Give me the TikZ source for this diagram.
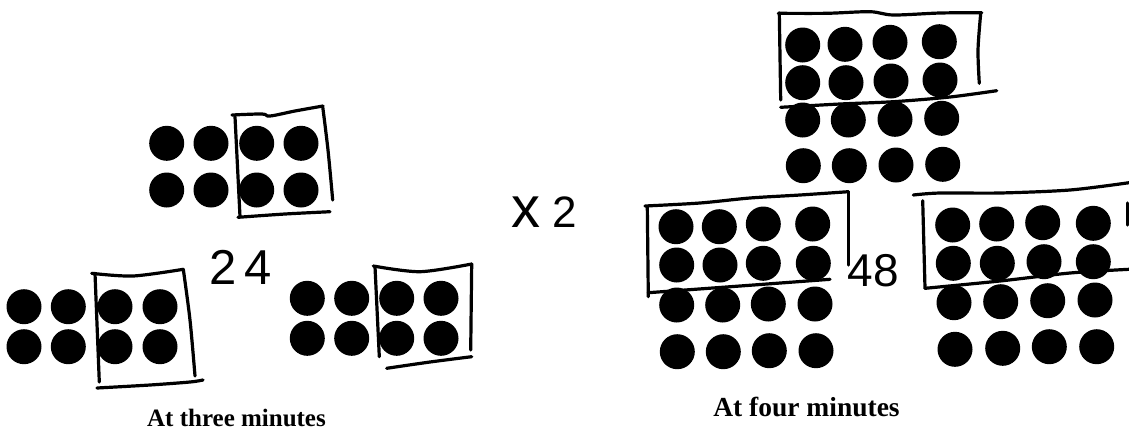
\documentclass[tikz,border=0pt]{standalone}
\usepackage{fontspec}
\setmainfont{Liberation Serif}
\newfontfamily\handfont{Liberation Sans}
\begin{document}
\begin{tikzpicture}[x=1pt,y=-1pt,
  hand/.style={line width=3.2pt,line cap=round,line join=round},
  dot/.style={fill=black},
  lbl/.style={anchor=base,font=\bfseries},
  num/.style={font=\handfont}]
\useasboundingbox (0,0) rectangle (1129,432);
\newcommand\dt[2]{\fill[dot] (#1,#2) circle (17.5pt);}
% ---------- group 1 (top left)
\foreach \x in {166.7,211,256.7,301} {\dt{\x}{143.3}\dt{\x}{190}}
\draw[hand] plot[smooth,tension=0.6] coordinates {(232,115) (262,114) (270,116) (295,111) (323,106)};
\draw[hand] plot[smooth] coordinates {(322.7,106.7) (328,150) (332.7,200)};
\draw[hand] (235,116.7) -- (240,216.7);
\draw[hand] plot[smooth] coordinates {(238,217.3) (285,214) (330,211.7)};
% ---------- group 2 (bottom left)
\foreach \x in {24,68.3,115,160} {\dt{\x}{306.7}\dt{\x}{346.7}}
\draw[hand] plot[smooth] coordinates {(91.7,273.3) (133,276) (183.3,269.3)};
\draw[hand] plot[smooth] coordinates {(183.3,269.3) (190,320) (195,376)};
\draw[hand] (95,273.3) -- (99.3,382);
\draw[hand] plot[smooth] coordinates {(97,388) (150,385) (190,382) (203,380)};
% ---------- group 3 (bottom middle)
\foreach \x in {307.3,351.7,396.7,441} {\dt{\x}{298.3}\dt{\x}{338.3}}
\draw[hand] plot[smooth] coordinates {(373.3,266) (420,271.7) (471.7,264)};
\draw[hand] (375,266.7) -- (379.3,356.7);
\draw[hand] (471.7,264) -- (470.7,350);
\draw[hand] plot[smooth] coordinates {(386.7,368.3) (430,362) (471.7,356.7)};
% ---------- labels left
\node[num,font=\handfont\fontsize{49}{49}\selectfont] (n24) at (241,267) {2\kern8pt 4};
\node[lbl,font=\bfseries\fontsize{25}{25}\selectfont] (l3) at (236.5,426.5) {At three minutes};
\node[num,font=\handfont\fontsize{44}{44}\selectfont] (x2) at (544,212) {{\fontsize{58}{58}\selectfont x} 2};
% ---------- group 4 (top right)
\dt{802.7}{45}\dt{845}{44.3}\dt{890}{42.3}\dt{939.3}{41.7}
\dt{802.7}{82.7}\dt{846}{82.7}\dt{891}{81}\dt{940}{80}
\dt{802.7}{120}\dt{848.3}{120}\dt{895}{119.3}\dt{941.7}{118.3}
\dt{803.3}{165.7}\dt{849.3}{165.7}\dt{896}{165}\dt{942.7}{164.3}
\draw[hand] plot[smooth] coordinates {(778.3,13.3) (826.7,13.3) (870,11.7) (893.3,15) (940,13) (981.7,12.7)};
\draw[hand] (779.3,13) -- (780.7,100);
\draw[hand] plot[smooth] coordinates {(980.7,13.3) (978,50) (979.3,83.3)};
\draw[hand] plot[smooth] coordinates {(780.7,107.3) (840,104) (893.3,101.7) (950,97) (996.7,90.7)};
% ---------- group 5 (bottom middle right)
\dt{676}{226.7}\dt{719.3}{226.7}\dt{763.3}{224}\dt{812.7}{224}
\dt{676.7}{265}\dt{720}{265}\dt{763.3}{263.3}\dt{813.3}{263.3}
\dt{676.7}{305}\dt{722.7}{305}\dt{768.3}{304}\dt{815}{304}
\dt{677.3}{351.7}\dt{723.3}{351.7}\dt{769.3}{350.7}\dt{816}{350.7}
\draw[hand] plot[smooth] coordinates {(645,206) (700,203) (750,198) (800,195) (848.3,191.7)};
\draw[hand] (647.3,206.7) -- (648.3,296.7);
\draw[hand] (848.3,191.7) -- (848.3,265);
\draw[hand] plot[smooth] coordinates {(648.3,292.7) (740,286) (830,279.3)};
\node[num,font=\handfont\fontsize{46}{46}\selectfont] (n48) at (873,271) {48};
% ---------- group 6 (bottom right)
\dt{952.7}{225}\dt{996.7}{224}\dt{1042.7}{222.7}\dt{1093.3}{223.3}
\dt{953.3}{263.3}\dt{997.3}{263.3}\dt{1044}{261.7}\dt{1093.3}{261.7}
\dt{954}{302.7}\dt{1000.7}{301.7}\dt{1047.7}{300.7}\dt{1095}{300}
\dt{955}{349.3}\dt{1002.7}{348.3}\dt{1049.3}{346.7}\dt{1096.7}{346.7}
\draw[hand] plot[smooth] coordinates {(913.3,195) (940,193) (1000,193) (1070,190) (1129,182.7)};
\draw[hand] (922.7,200.7) -- (925,288.3);
\draw[hand] plot[smooth] coordinates {(925,288.3) (1000,281) (1070,273) (1129,269.3)};
\draw[hand] (1127.5,203) -- (1127.5,225);
% ---------- label right
\node[lbl,font=\bfseries\fontsize{27.5}{27.5}\selectfont] (l4) at (806.5,416) {At four minutes};
\end{tikzpicture}
\end{document}
